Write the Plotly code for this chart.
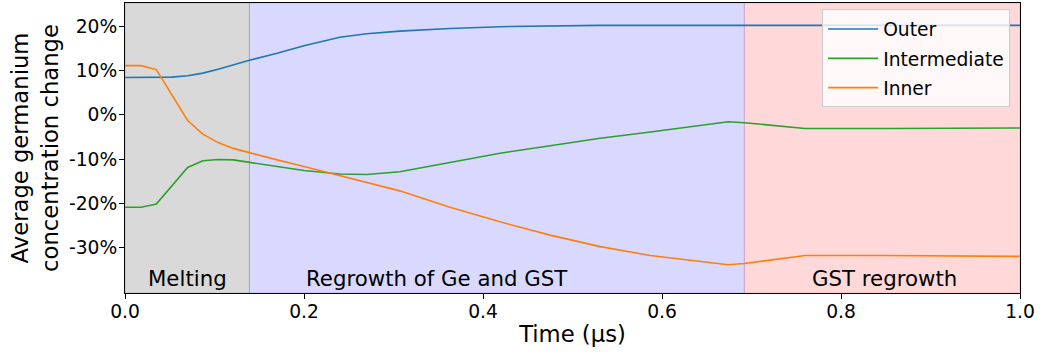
import plotly.graph_objects as go

# Data
time_us = [0, 0.018, 0.035, 0.052, 0.07, 0.087, 0.104, 0.121, 0.139, 0.17, 0.2, 0.24, 0.27,
           0.307, 0.363, 0.419, 0.475, 0.531, 0.587, 0.643, 0.674, 0.692, 0.76, 0.85, 1.0]
outer = [8.4, 8.4, 8.4, 8.5, 8.8, 9.4, 10.3, 11.3, 12.3, 13.9, 15.6, 17.5, 18.3,
         18.9, 19.5, 19.9, 20.1, 20.2, 20.2, 20.2, 20.2, 20.2, 20.2, 20.2, 20.2]
intermediate = [-20.9, -20.9, -20.2, -16.2, -11.9, -10.4, -10.1, -10.2, -10.7, -11.7, -12.6, -13.4, -13.5,
                -12.9, -10.8, -8.7, -7.0, -5.3, -3.9, -2.5, -1.6, -1.8, -3.1, -3.1, -3.0]
inner = [11.1, 11.1, 10.2, 4.6, -1.3, -4.4, -6.3, -7.6, -8.6, -10.2, -11.7, -13.7, -15.3,
         -17.2, -20.9, -24.2, -27.2, -29.8, -31.8, -33.2, -33.9, -33.6, -31.8, -31.8, -32.0]

phase_bounds = [0.0, 0.139, 0.692, 1.0]
phase_labels = ["Melting", "Regrowth of Ge and GST", "GST regrowth"]
phase_label_x = [0.070, 0.349, 0.849]
phase_colors = ["rgba(128,128,128,0.3)", "rgba(0,0,255,0.15)", "rgba(255,0,0,0.15)"]

y_ticks = [20, 10, 0, -10, -20, -30]
y_ticklabels = ["20%", "10%", "0%", "-10%", "-20%", "-30%"]
x_ticks = [0.0, 0.2, 0.4, 0.6, 0.8, 1.0]

FONT = "DejaVu Sans"

fig = go.Figure()
series = [("Outer", outer, "#1f77b4"), ("Intermediate", intermediate, "#2ca02c"),
          ("Inner", inner, "#ff7f0e")]
for name, vals, col in series:
    fig.add_trace(go.Scatter(x=time_us, y=vals, mode="lines", name=name,
                             legendgroup=name,
                             line=dict(color=col, width=1.6)))

for i in range(3):
    fig.add_shape(type="rect", xref="x", yref="paper",
                  x0=phase_bounds[i], x1=phase_bounds[i + 1], y0=0, y1=1,
                  fillcolor=phase_colors[i], line=dict(color=phase_colors[i], width=1),
                  layer="below")
    fig.add_annotation(x=phase_label_x[i], y=-37.0, xref="x", yref="y",
                       text=phase_labels[i], showarrow=False,
                       font=dict(family=FONT, size=21.3, color="black"),
                       xanchor="center", yanchor="middle")

fig.update_layout(
    width=1042, height=356,
    margin=dict(l=125, r=22, t=3, b=63),
    paper_bgcolor="white", plot_bgcolor="white",
    font=dict(family=FONT, size=18.7, color="black"),
    showlegend=True,
    legend=dict(x=0.989, y=0.978, xanchor="right", yanchor="top",
                tracegroupgap=2, itemwidth=50,
                bgcolor="rgba(255,255,255,0.8)", bordercolor="#cccccc", borderwidth=1,
                font=dict(family=FONT, size=18.7, color="black")),
)
fig.update_xaxes(range=[0, 1], tickvals=x_ticks, tickformat=".1f",
                 showgrid=False, zeroline=False, showline=True, mirror=True,
                 linecolor="black", linewidth=1, ticks="outside", ticklen=5,
                 tickcolor="black", tickfont=dict(family=FONT, size=18.7),
                 ticklabelstandoff=-3,
                 title=dict(text="Time (μs)", font=dict(family=FONT, size=22.7), standoff=4))
fig.update_yaxes(range=[-40.28, 25.25], tickvals=y_ticks, ticktext=y_ticklabels,
                 showgrid=False, zeroline=False, showline=True, mirror=True,
                 linecolor="black", linewidth=1, ticks="outside", ticklen=5,
                 tickcolor="black", tickfont=dict(family=FONT, size=18.7),
                 ticklabelstandoff=-2,
                 title=dict(text="Average germanium<br>concentration change",
                            font=dict(family=FONT, size=22.7), standoff=4))

fig.write_html("out.html", config={"displayModeBar": False},
               post_script="document.body.style.margin='0';")
